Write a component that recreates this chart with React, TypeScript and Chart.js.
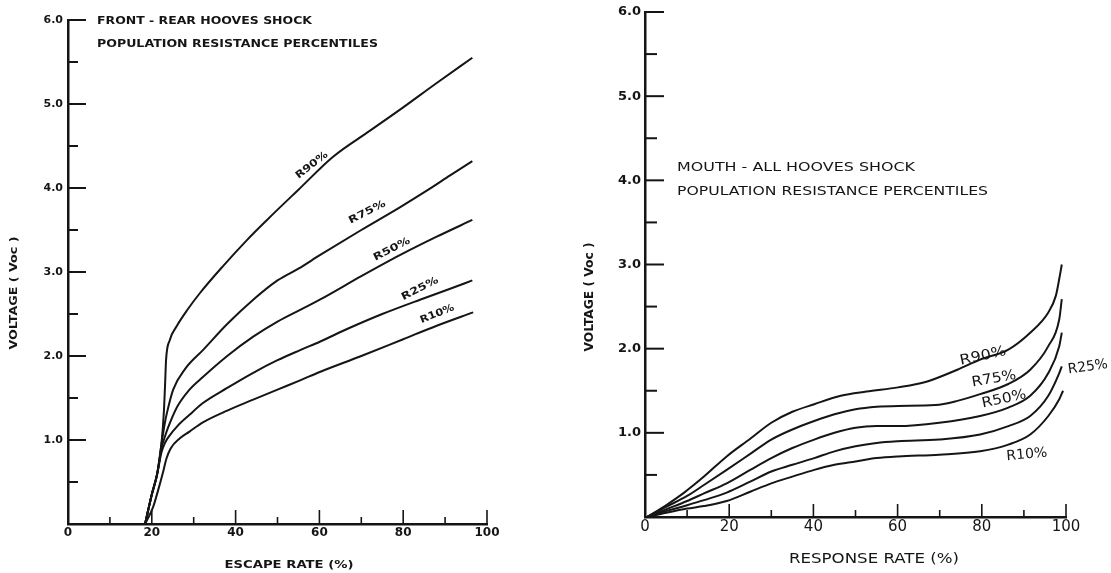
import React, { useEffect, useRef } from 'react';
import { Chart, registerables } from 'chart.js';

Chart.register(...registerables);

const INK = '#151515';
const FONT = "'DejaVu Sans', 'Liberation Sans', sans-serif";

// ---------- Left panel: front-rear hooves shock (escape rate % vs voltage) ----------
const escapeR90: [number, number][] = [
  [18.4, 0], [20, 0.35], [21.3, 0.6], [22.3, 0.95], [22.9, 1.35], [23.2, 1.7], [23.4, 1.95],
  [24.3, 2.19], [26, 2.36], [28.5, 2.55], [31.5, 2.75], [37, 3.07], [42.7, 3.38], [47.5, 3.62],
  [55, 3.98], [63.2, 4.37], [72, 4.68], [80, 4.96], [88, 5.25], [96.5, 5.55],
];
const escapeR75: [number, number][] = [
  [18.4, 0], [20, 0.35], [21.3, 0.6], [22.3, 0.95], [23.1, 1.2], [23.6, 1.32], [25.1, 1.6],
  [28, 1.85], [32.2, 2.07], [38, 2.38], [44.2, 2.67], [50, 2.9], [55, 3.04], [60.1, 3.2],
  [70, 3.5], [79.2, 3.77], [86, 3.98], [91.2, 4.15], [96.5, 4.32],
];
const escapeR50: [number, number][] = [
  [18.4, 0], [20, 0.35], [21.3, 0.6], [22.3, 0.9], [23.2, 1.05], [23.9, 1.15], [26, 1.39],
  [29, 1.6], [32.2, 1.75], [38, 2.0], [44.2, 2.23], [50, 2.41], [55.4, 2.55], [60.1, 2.67],
  [70, 2.95], [79.2, 3.2], [88, 3.42], [96.5, 3.62],
];
const escapeR25: [number, number][] = [
  [18.4, 0], [20, 0.35], [21.3, 0.6], [22.3, 0.85], [23.2, 0.97], [24.2, 1.05], [26, 1.16],
  [29, 1.3], [32.2, 1.44], [38, 1.62], [44.2, 1.8], [50, 1.95], [55.4, 2.07], [60.1, 2.17],
  [67, 2.33], [75, 2.5], [84, 2.67], [91.2, 2.8], [96.5, 2.9],
];
const escapeR10: [number, number][] = [
  [18.4, 0], [20.3, 0.2], [21.5, 0.4], [22.6, 0.6], [23.5, 0.78], [24.5, 0.9], [26.7, 1.02],
  [29, 1.1], [32.2, 1.21], [38, 1.35], [44.2, 1.48], [50, 1.6], [55.4, 1.71], [60.1, 1.81],
  [70, 2.0], [80, 2.2], [88, 2.36], [96.7, 2.52],
];

// ---------- Right panel: mouth-all hooves shock (response rate % vs voltage) ----------
const responseR90: [number, number][] = [
  [0.5, 0], [5, 0.14], [9.3, 0.29], [14, 0.48], [19.4, 0.72], [25, 0.93], [30, 1.12], [35, 1.25],
  [40.2, 1.34], [46.5, 1.44], [52.6, 1.49], [60.1, 1.54], [66.4, 1.6], [74.2, 1.75], [79.6, 1.87],
  [86.3, 1.99], [91.5, 2.19], [95.8, 2.43], [97.6, 2.63], [98.4, 2.83], [99, 3.0],
];
const responseR75: [number, number][] = [
  [0.5, 0], [5, 0.12], [10, 0.25], [14, 0.38], [19.4, 0.56], [25, 0.75], [30, 0.92], [35, 1.04],
  [40.2, 1.14], [45, 1.22], [50, 1.28], [55, 1.31], [60.1, 1.32], [69, 1.33], [74.2, 1.38],
  [79.6, 1.46], [86.3, 1.58], [91.5, 1.75], [95.8, 2.03], [98.4, 2.35], [99, 2.59],
];
const responseR50: [number, number][] = [
  [0.5, 0], [5, 0.09], [10, 0.19], [14, 0.28], [19.4, 0.4], [25, 0.56], [30, 0.7], [35, 0.82],
  [40.2, 0.92], [45, 1.0], [50, 1.06], [55, 1.08], [60.1, 1.08], [69.9, 1.12], [79.6, 1.2],
  [86.3, 1.3], [91.5, 1.44], [95.8, 1.71], [98.4, 2.03], [99, 2.19],
];
const responseR25: [number, number][] = [
  [0.5, 0], [5, 0.07], [10, 0.14], [14, 0.2], [19.4, 0.29], [25, 0.42], [30, 0.54], [35, 0.62],
  [40.2, 0.7], [45, 0.78], [50, 0.84], [55, 0.88], [60.1, 0.9], [69.9, 0.92], [79.6, 0.98],
  [86.3, 1.08], [91.5, 1.2], [95.8, 1.44], [98.4, 1.71], [99, 1.79],
];
const responseR10: [number, number][] = [
  [0.5, 0], [5, 0.05], [10, 0.1], [14, 0.13], [19.4, 0.19], [25, 0.3], [30, 0.4], [35, 0.48],
  [40.2, 0.56], [45, 0.62], [50, 0.66], [55, 0.7], [60.1, 0.72], [69.9, 0.74], [79.6, 0.78],
  [86.3, 0.86], [91.5, 0.98], [95.8, 1.2], [98.4, 1.4], [99.3, 1.5],
];

const curveNames = ['R90%', 'R75%', 'R50%', 'R25%', 'R10%'];
const rateMajorTicks = [0, 20, 40, 60, 80, 100];
const rateMinorTicks = [10, 30, 50, 70, 90];
const voltMajorTicks = [1, 2, 3, 4, 5, 6];
const voltMinorTicks = [0.5, 1.5, 2.5, 3.5, 4.5, 5.5];

type TextItem = {
  text: string; x: number; y: number; w?: number; font: string; rot?: number;
  align?: CanvasTextAlign; data?: boolean;
};

type PanelSpec = {
  left: number; width: number;
  series: [number, number][][];
  padding: { left: number; top: number; right: number; bottom: number };
  yWidth: number; xHeight: number;
  xTickFont: any; yTickFont: any; xTickPad: number; yTickPad: number;
  tick: { yMaj: number; yMin: number; xMaj: number; xMin: number };
  texts: TextItem[];
};

const leftPanel: PanelSpec = {
  left: 0, width: 540,
  series: [escapeR90, escapeR75, escapeR50, escapeR25, escapeR10],
  padding: { left: 0, top: 20, right: 53, bottom: 0 },
  yWidth: 68, xHeight: 49,
  xTickFont: { family: FONT, size: 12, weight: 'bold' },
  yTickFont: { family: FONT, size: 11, weight: 'bold' },
  xTickPad: 2, yTickPad: 5,
  tick: { yMaj: 18, yMin: 10, xMaj: 14, xMin: 7 },
  texts: [
    { text: 'FRONT - REAR HOOVES SHOCK', x: 97, y: 21, w: 215, font: `bold 11px ${FONT}`, align: 'left' },
    { text: 'POPULATION RESISTANCE PERCENTILES', x: 97, y: 44, w: 281, font: `bold 11px ${FONT}`, align: 'left' },
    { text: 'VOLTAGE ( Voc )', x: 14, y: 293, w: 113, font: `bold 10px ${FONT}`, rot: -90 },
    { text: 'ESCAPE RATE (%)', x: 289, y: 565, w: 129, font: `bold 10px ${FONT}` },
    { text: curveNames[0], x: 58.2, y: 4.27, w: 38, font: `bold 10px ${FONT}`, rot: -38, data: true },
    { text: curveNames[1], x: 71.4, y: 3.71, w: 40, font: `bold 10px ${FONT}`, rot: -27, data: true },
    { text: curveNames[2], x: 77.3, y: 3.27, w: 40, font: `bold 10px ${FONT}`, rot: -27, data: true },
    { text: curveNames[3], x: 84, y: 2.8, w: 40, font: `bold 10px ${FONT}`, rot: -27, data: true },
    { text: curveNames[4], x: 88.1, y: 2.5, w: 36, font: `bold 10px ${FONT}`, rot: -22, data: true },
  ],
};

const rightPanel: PanelSpec = {
  left: 540, width: 571,
  series: [responseR90, responseR75, responseR50, responseR25, responseR10],
  padding: { left: 0, top: 12, right: 45, bottom: 0 },
  yWidth: 105, xHeight: 56,
  xTickFont: { family: FONT, size: 15 },
  yTickFont: { family: FONT, size: 13, weight: 'bold' },
  xTickPad: 1, yTickPad: 4,
  tick: { yMaj: 19, yMin: 12, xMaj: 13, xMin: 7 },
  texts: [
    { text: 'MOUTH - ALL HOOVES SHOCK', x: 137, y: 168, w: 238, font: `13px ${FONT}`, align: 'left' },
    { text: 'POPULATION RESISTANCE PERCENTILES', x: 137, y: 192, w: 311, font: `13px ${FONT}`, align: 'left' },
    { text: 'VOLTAGE ( Voc )', x: 50, y: 297, w: 109, font: `bold 12px ${FONT}`, rot: -90 },
    { text: 'RESPONSE RATE (%)', x: 334, y: 559, w: 170, font: `14px ${FONT}` },
    { text: curveNames[0], x: 80.3, y: 1.91, w: 47, font: `14px ${FONT}`, rot: -12, data: true },
    { text: curveNames[1], x: 82.9, y: 1.64, w: 45, font: `14px ${FONT}`, rot: -10, data: true },
    { text: curveNames[2], x: 85.3, y: 1.4, w: 45, font: `14px ${FONT}`, rot: -12, data: true },
    { text: curveNames[3], x: 105.2, y: 1.78, w: 40, font: `14px ${FONT}`, rot: -8, data: true },
    { text: curveNames[4], x: 90.7, y: 0.74, w: 41, font: `14px ${FONT}`, rot: -5, data: true },
  ],
};

function drawText(ctx: CanvasRenderingContext2D, t: TextItem, px: number, py: number) {
  ctx.save();
  ctx.font = t.font;
  ctx.fillStyle = INK;
  ctx.translate(px, py);
  if (t.rot) ctx.rotate((t.rot * Math.PI) / 180);
  const m = ctx.measureText(t.text).width;
  if (t.w) ctx.scale(t.w / m, 1);
  ctx.textBaseline = 'middle';
  ctx.textAlign = t.align || 'center';
  ctx.fillText(t.text, 0, 0);
  ctx.restore();
}

function decorPlugin(spec: PanelSpec) {
  return {
    id: 'decor',
    afterDraw(chart: any) {
      const { ctx, chartArea } = chart;
      const xs = chart.scales.x;
      const ys = chart.scales.y;
      ctx.save();
      ctx.strokeStyle = INK;
      ctx.lineWidth = 2;
      ctx.lineCap = 'butt';
      const hTick = (v: number, len: number) => {
        const p = ys.getPixelForValue(v);
        ctx.beginPath();
        ctx.moveTo(chartArea.left, p);
        ctx.lineTo(chartArea.left + len, p);
        ctx.stroke();
      };
      const vTick = (v: number, len: number) => {
        const p = xs.getPixelForValue(v);
        ctx.beginPath();
        ctx.moveTo(p, chartArea.bottom);
        ctx.lineTo(p, chartArea.bottom - len);
        ctx.stroke();
      };
      voltMajorTicks.forEach((v) => hTick(v, spec.tick.yMaj));
      voltMinorTicks.forEach((v) => hTick(v, spec.tick.yMin));
      ctx.lineWidth = 1.6;
      rateMajorTicks.filter((v) => v > 0).forEach((v) => vTick(v, spec.tick.xMaj));
      rateMinorTicks.forEach((v) => vTick(v, spec.tick.xMin));
      ctx.restore();
      spec.texts.forEach((t) => {
        const px = t.data ? xs.getPixelForValue(t.x) : t.x;
        const py = t.data ? ys.getPixelForValue(t.y) : t.y;
        drawText(ctx, t, px, py);
      });
    },
  };
}

function makeConfig(spec: PanelSpec): any {
  return {
    type: 'line',
    data: {
      datasets: spec.series.map((pts, i) => ({
        label: curveNames[i],
        data: pts.map(([x, y]) => ({ x, y })),
        borderColor: INK,
        borderWidth: 2,
        pointRadius: 0,
        fill: false,
        cubicInterpolationMode: 'monotone',
      })),
    },
    options: {
      animation: false,
      responsive: false,
      events: [],
      layout: { padding: spec.padding },
      plugins: { legend: { display: false }, tooltip: { enabled: false } },
      scales: {
        x: {
          type: 'linear', min: 0, max: 100,
          afterFit: (s: any) => { s.height = spec.xHeight; },
          afterBuildTicks: (s: any) => { s.ticks = rateMajorTicks.map((v) => ({ value: v })); },
          ticks: {
            autoSkip: false, maxRotation: 0, padding: spec.xTickPad, color: INK, font: spec.xTickFont,
            callback: (v: any) => String(v),
          },
          grid: { display: false, drawTicks: false, tickLength: 0 },
          border: { display: true, color: INK, width: 2.5 },
        },
        y: {
          type: 'linear', min: 0, max: 6,
          afterFit: (s: any) => { s.width = spec.yWidth; },
          afterBuildTicks: (s: any) => { s.ticks = [0, ...voltMajorTicks].map((v) => ({ value: v })); },
          ticks: {
            autoSkip: false, padding: spec.yTickPad, color: INK, font: spec.yTickFont,
            callback: (v: any) => (Number(v) === 0 ? '' : Number(v).toFixed(1)),
          },
          grid: { display: false, drawTicks: false, tickLength: 0 },
          border: { display: true, color: INK, width: 2.5 },
        },
      },
    },
    plugins: [decorPlugin(spec)],
  };
}

function Panel({ spec }: { spec: PanelSpec }) {
  const ref = useRef<HTMLCanvasElement>(null);
  useEffect(() => {
    if (!ref.current) return;
    const chart = new Chart(ref.current, makeConfig(spec));
    return () => chart.destroy();
  }, [spec]);
  return (
    <canvas
      ref={ref}
      width={spec.width}
      height={573}
      style={{ position: 'absolute', left: spec.left, top: 0, width: spec.width, height: 573 }}
    />
  );
}

export default function App() {
  return (
    <div style={{ position: 'fixed', left: 0, top: 0, width: 1111, height: 573, background: '#ffffff', overflow: 'hidden' }}>
      <Panel spec={leftPanel} />
      <Panel spec={rightPanel} />
    </div>
  );
}
